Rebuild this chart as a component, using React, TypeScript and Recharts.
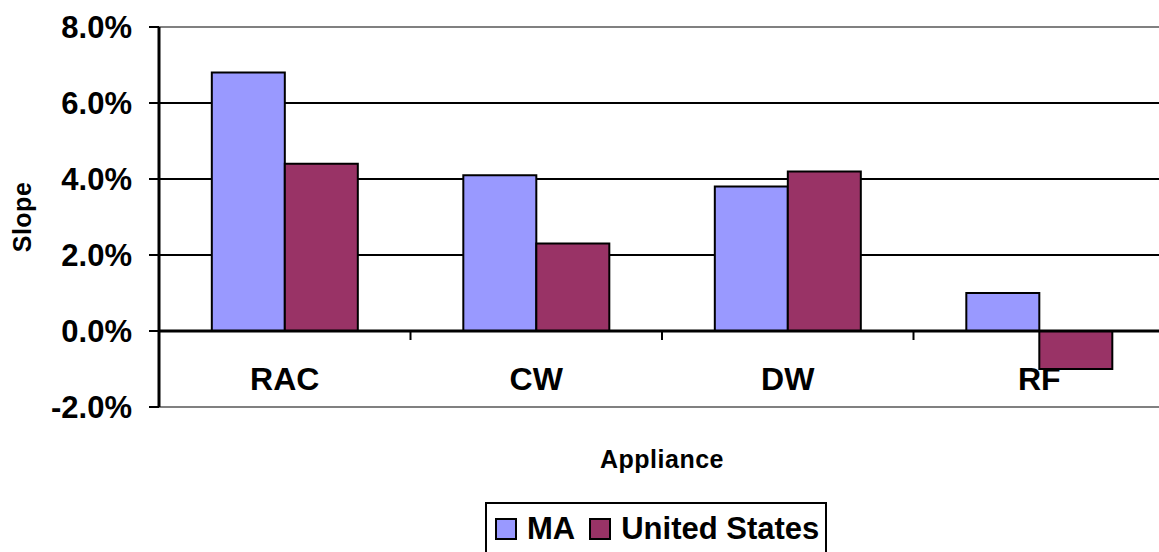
import React from 'react';
import { BarChart, Bar, XAxis, YAxis, CartesianGrid, ReferenceLine, Legend, Label } from 'recharts';

const categories = ['RAC', 'CW', 'DW', 'RF'];
const maValues = [0.068, 0.041, 0.038, 0.010];
const usValues = [0.044, 0.023, 0.042, -0.010];
const yTicks = [-0.02, 0, 0.02, 0.04, 0.06, 0.08];
const seriesNames = ['MA', 'United States'];
const seriesColors = ['#9999FF', '#993366'];

const data = categories.map((c, i) => ({ name: c, ma: maValues[i], us: usValues[i] }));

const FONT = '"Liberation Sans", Arial, Helvetica, sans-serif';
const CHART_W = 1172;
const CHART_H = 552;
const X_AXIS_H = 30;
const MARGIN = { top: 27, right: 7, left: 0, bottom: 145 - X_AXIS_H };
const Y_AXIS_W = 159;
const Y_MIN = -0.02;
const Y_MAX = 0.08;
const PLOT_H = CHART_H - MARGIN.top - MARGIN.bottom - X_AXIS_H;
const PLOT_W = CHART_W - MARGIN.left - MARGIN.right - Y_AXIS_W;
const PLOT_BOTTOM = MARGIN.top + PLOT_H;
const ZERO_Y = MARGIN.top + (PLOT_H * (Y_MAX - 0)) / (Y_MAX - Y_MIN);
const BAND = PLOT_W / categories.length;

const CategoryTick = (props: any) => {
  const { x, payload, index } = props;
  return (
    <g>
      <text
        x={x}
        y={ZERO_Y + 59}
        textAnchor="middle"
        fontFamily={FONT}
        fontWeight="bold"
        fontSize={32}
        fill="#000"
      >
        {payload.value}
      </text>
      {index < categories.length - 1 && (
        <line x1={x + BAND / 2} x2={x + BAND / 2} y1={ZERO_Y} y2={ZERO_Y + 9} stroke="#000" strokeWidth={2} />
      )}
    </g>
  );
};

const LegendContent = (props: any) => {
  const payload = props.payload || [];
  return (
    <div
      style={{
        border: '2px solid #000',
        display: 'inline-flex',
        alignItems: 'center',
        padding: '8px 6px 20px 8px',
        fontFamily: FONT,
        fontWeight: 'bold',
        fontSize: 31,
        lineHeight: '34px',
        background: '#fff',
        whiteSpace: 'nowrap',
      }}
    >
      {payload.map((p: any, i: number) => (
        <span key={i} style={{ display: 'inline-flex', alignItems: 'center', marginRight: i < payload.length - 1 ? 14 : 0 }}>
          <span
            style={{
              display: 'inline-block',
              width: 18,
              height: 18,
              border: '2px solid #000',
              background: p.color,
              marginRight: 10,
            }}
          />
          <span>{p.value}</span>
        </span>
      ))}
    </div>
  );
};

export default function App() {
  return (
    <div style={{ position: 'absolute', left: 0, top: 0, width: 1159, height: 552, overflow: 'hidden', background: '#fff' }}>
      <BarChart
        width={CHART_W}
        height={CHART_H}
        data={data}
        margin={MARGIN}
        barCategoryGap="21%"
        barGap={0}
      >
        <CartesianGrid horizontal vertical={false} stroke="#000" strokeWidth={2} horizontalValues={[0.02, 0.04, 0.06]} />
        <ReferenceLine y={Y_MAX} stroke="#808080" strokeWidth={2} />
        <ReferenceLine y={Y_MIN} stroke="#808080" strokeWidth={2} />
        <XAxis
          dataKey="name"
          axisLine={false}
          tickLine={false}
          height={X_AXIS_H}
          tick={<CategoryTick />}
          interval={0}
        />
        <YAxis
          width={Y_AXIS_W}
          domain={[Y_MIN, Y_MAX]}
          ticks={yTicks}
          allowDataOverflow
          tickFormatter={(v: number) => (v * 100).toFixed(1) + '%'}
          tick={{ fontFamily: FONT, fontWeight: 'bold', fontSize: 31, fill: '#000' }}
          axisLine={{ stroke: '#000', strokeWidth: 3 }}
          tickLine={{ stroke: '#000', strokeWidth: 2 }}
          tickSize={10}
          tickMargin={17}
        >
          <Label
            content={(p: any) => {
              const vb = p.viewBox || { x: 0, y: 0, width: 0, height: 0 };
              const cx = vb.x + 31;
              const cy = vb.y + vb.height / 2;
              return (
                <text
                  x={cx}
                  y={cy}
                  transform={`rotate(-90, ${cx}, ${cy})`}
                  textAnchor="middle"
                  fontFamily={FONT}
                  fontWeight="bold"
                  fontSize={25}
                  letterSpacing={0.5}
                  fill="#000"
                >
                  Slope
                </text>
              );
            }}
          />
        </YAxis>
        <Bar dataKey="ma" name={seriesNames[0]} fill={seriesColors[0]} stroke="#000" strokeWidth={2} isAnimationActive={false} />
        <Bar dataKey="us" name={seriesNames[1]} fill={seriesColors[1]} stroke="#000" strokeWidth={2} isAnimationActive={false} />
        <ReferenceLine y={0} stroke="#000" strokeWidth={3} />
        <Legend
          layout="vertical"
          align="center"
          verticalAlign="middle"
          content={<LegendContent />}
          wrapperStyle={{ left: 485, top: 502, width: 'auto', height: 'auto' }}
        />
      </BarChart>
      <div
        style={{
          position: 'absolute',
          left: Y_AXIS_W,
          width: PLOT_W,
          top: PLOT_BOTTOM + 38,
          textAlign: 'center',
          fontFamily: FONT,
          fontWeight: 'bold',
          fontSize: 25,
          letterSpacing: 0.5,
          color: '#000',
        }}
      >
        Appliance
      </div>
    </div>
  );
}
